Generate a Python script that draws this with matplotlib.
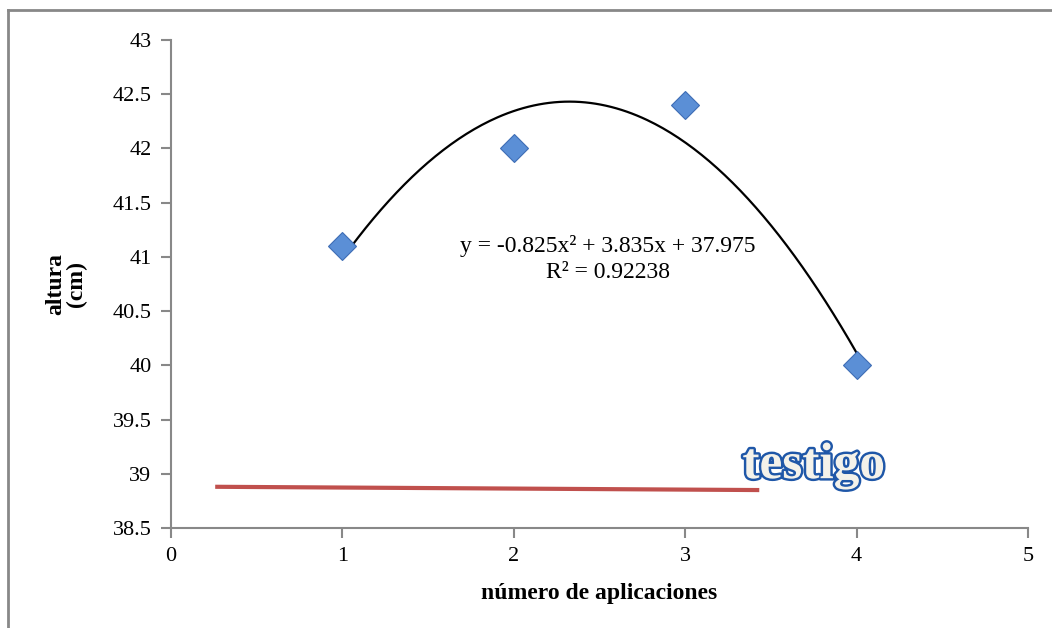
import numpy as np
import matplotlib
matplotlib.use('Agg')
import matplotlib.pyplot as plt
import matplotlib.patheffects as pe
from matplotlib.lines import Line2D

# datos medidos
aplicaciones = [1, 2, 3, 4]
altura = [41.1, 42.0, 42.4, 40.0]

# ajuste polinomial (orden 2) reportado
coef = [-0.825, 3.835, 37.975]
r2 = 0.92238

# linea del testigo
testigo_x = [0.27, 3.42]
testigo_y = [38.88, 38.85]

plt.rcParams['font.family'] = ['Liberation Serif', 'DejaVu Serif']

fig = plt.figure(figsize=(10.52, 6.28), dpi=100)
ax = fig.add_axes([171/1052, 100/628, (1028-171)/1052, (528-40)/628])

# curva de tendencia
xf = np.linspace(1, 4, 200)
ax.plot(xf, np.polyval(coef, xf), color='black', lw=1.6, zorder=2)

ax.plot(aplicaciones, altura, linestyle='none', marker='D', markersize=14,
        markerfacecolor='#5b8fd6', markeredgecolor='#3e6db5', markeredgewidth=0.8,
        zorder=3)

ax.plot(testigo_x, testigo_y, color='#c0504d', lw=3, zorder=2)

ax.text(2.55, 40.98, 'y = -0.825x² + 3.835x + 37.975\nR² = 0.%d' % round(r2 * 1e5),
        ha='center', va='center', fontsize=17, linespacing=1.3)

ax.text(3.75, 39.07, 'testigo', ha='center', va='center', fontsize=37,
        fontweight='bold', color='#f4f2ea',
        path_effects=[pe.withStroke(linewidth=3.5, foreground='#1f57a8')])

ax.set_xlim(0, 5)
ax.set_ylim(38.5, 43)
ax.set_xticks(np.arange(0, 6, 1))
ax.set_yticks(np.arange(38.5, 43.01, 0.5))
ax.set_yticklabels(['38.5', '39', '39.5', '40', '40.5', '41', '41.5', '42', '42.5', '43'])

for s in ['top', 'right']:
    ax.spines[s].set_visible(False)
for s in ['left', 'bottom']:
    ax.spines[s].set_color('#888888')
    ax.spines[s].set_linewidth(1.5)
ax.tick_params(direction='out', length=7, width=1.5, color='#888888',
               labelsize=16, pad=7)

ax.set_xlabel('número de aplicaciones', fontsize=17, fontweight='bold', labelpad=12)
fig.text(66/1052, 1 - 284/628, 'altura\n(cm)', rotation=90, ha='center', va='center',
         fontsize=17, fontweight='bold', linespacing=1.0)

# marco exterior
fig.add_artist(Line2D([8/1052, 8/1052], [0, 1 - 10/628], color='#888888', lw=2))
fig.add_artist(Line2D([8/1052, 1], [1 - 10/628, 1 - 10/628], color='#888888', lw=2))

fig.savefig('out.png', dpi=100)
